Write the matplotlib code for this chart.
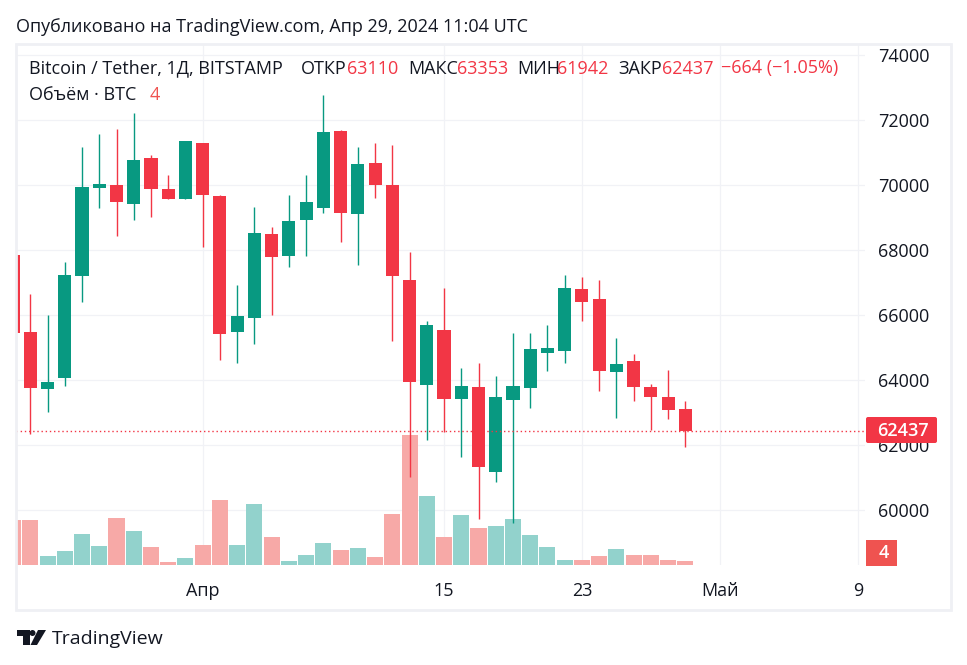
import matplotlib
matplotlib.use('Agg')
import matplotlib.pyplot as plt
from matplotlib.patches import Rectangle, FancyBboxPatch, Polygon, Circle
from matplotlib.transforms import IdentityTransform

plt.rcParams['font.family'] = ['Open Sans', 'DejaVu Sans']

# daily candles
opens = [67855, 65486, 63742, 64080, 67219, 69926, 70009, 69434, 70840, 69886,
         69588, 71302, 69671, 65495, 65926, 68502, 67834, 68942, 69311, 71671,
         69126, 70686, 70009, 67086, 63865, 65548, 63434, 63794, 61188, 63403,
         63772, 64849, 64911, 66809, 66502, 64265, 64594, 63794, 63486, 63110]
highs = [67855, 66656, 66009, 67640, 71179, 71579, 71733, 72225, 70933, 70317,
         71363, 71302, 69702, 66932, 69333, 68717, 69702, 70317, 72779, 71702,
         71179, 71302, 71240, 67948, 65825, 66840, 64379, 64532, 64132, 65455,
         65455, 65702, 67240, 67179, 67086, 65302, 64809, 63886, 64317, 63353]
lows = [65465, 62357, 63034, 63834, 66419, 69311, 68450, 68942, 69034, 69588,
        69588, 68111, 64634, 64542, 65126, 66009, 67496, 67834, 69157, 68265,
        67557, 69619, 65209, 61034, 62172, 62400, 61649, 59742, 60880, 59618,
        63157, 64295, 64542, 65834, 63680, 62849, 63372, 62462, 62819, 61942]
closes = [65465, 63772, 63948, 67240, 69948, 70040, 69496, 70779, 69896, 69588,
          71363, 69711, 65434, 65979, 68533, 67803, 68902, 69486, 71640, 69157,
          70656, 70019, 67219, 63948, 65702, 63434, 63825, 61342, 63486, 63825,
          64963, 64994, 66840, 66419, 64295, 64502, 63803, 63495, 63095, 62437]
volumes = [45, 45, 9, 14, 31, 19, 47, 34, 18, 3,
           7, 20, 65, 20, 61, 28, 4, 10, 22, 15,
           17, 8, 51, 130, 69, 28, 50, 37, 39, 46,
           30, 18, 5, 5, 9, 16, 10, 10, 5, 4]
vol_up = [False, False, True, True, True, True, False, True, False, False,
          True, False, False, True, True, False, True, True, True, False,
          True, False, False, False, True, False, True, False, True, True,
          True, True, True, False, False, True, False, False, False, False]

price_ticks = [60000, 62000, 64000, 66000, 68000, 70000, 72000, 74000]
time_ticks = [11, 25, 33, 41, 49]
time_labels = ['Апр', '15', '23', 'Май', '9']
last_price = 62437

GREEN = '#089981'
RED = '#F23645'
VOL_GREEN = '#92D2CC'
VOL_RED = '#F7A9A7'
GRID = '#F1F2F6'
TEXT = '#131722'

W, H = 967, 665
FONT = 13


def fx(px):
    return px / W


def fy(py):
    return 1 - py / H


def label(px, py, s, color=TEXT, size=FONT, **kw):
    kw.setdefault('va', 'center')
    fig.text(fx(px), fy(py + 1.5), s, color=color, fontsize=size, **kw)


fig = plt.figure(figsize=(W / 100, H / 100), dpi=100, facecolor='white')

# panel frame
fig.add_artist(Rectangle((fx(15.5), fy(609.5)), fx(935), 566 / H, transform=fig.transFigure,
                         fill=False, edgecolor='#EFF0F4', linewidth=2))

ax = fig.add_axes([fx(16), fy(565), fx(849), 521 / H])
ymin = 58317
ax.set_ylim(ymin, 74348)
ax.set_xlim(0.17, 49.42)
for s in ax.spines.values():
    s.set_visible(False)
ax.set_axisbelow(True)
ax.grid(True, color=GRID, linewidth=0.9)

ax.yaxis.tick_right()
ax.set_yticks(price_ticks)
ax.set_yticklabels([str(p) for p in price_ticks])
ax.tick_params(axis='y', length=0, pad=9.4, labelsize=FONT, labelcolor=TEXT)
ax.set_xticks(time_ticks)
ax.set_xticklabels(time_labels)
ax.tick_params(axis='x', length=0, pad=12.5, labelsize=FONT, labelcolor=TEXT)

# one volume unit is one pixel high, same as 30.77 on the price scale
vol_scale = 30.77
xs = list(range(len(opens)))
ax.bar(xs, [v * vol_scale for v in volumes], bottom=ymin, width=0.93,
       color=[VOL_GREEN if u else VOL_RED for u in vol_up], zorder=1)

for i in xs:
    c = GREEN if closes[i] >= opens[i] else RED
    ax.vlines(i, lows[i], highs[i], color=c, linewidth=1, zorder=2)
    ax.bar(i, abs(closes[i] - opens[i]), bottom=min(opens[i], closes[i]), width=0.76,
           color=c, zorder=3)

ax.axhline(last_price, color=RED, linewidth=1, linestyle=(0, (1, 2)), zorder=4)

# tags on the price scale
px_tf = IdentityTransform()
fig.add_artist(FancyBboxPatch((868, H - 441), 67, 22, boxstyle='round,pad=2,rounding_size=2',
                              transform=px_tf, facecolor=RED, edgecolor='none', zorder=5))
fig.add_artist(Rectangle((866, H - 566), 31, 26, transform=px_tf, facecolor='#EF5350',
                         edgecolor='none', zorder=5))
fig.text(fx(903), fy(431.5), str(last_price), color='white', fontsize=FONT, fontweight='semibold',
         ha='center', va='center', zorder=6)
fig.text(fx(884), fy(553.5), '4', color='white', fontsize=FONT, fontweight='semibold',
         ha='center', va='center', zorder=6)

# header and legend
label(16, 25, 'Опубликовано на TradingView.com, Апр 29, 2024 11:04 UTC')
label(29, 67, 'Bitcoin / Tether, 1Д, BITSTAMP')
label(301, 67, 'ОТКР')
label(347, 67, '63110', RED)
label(408, 67, 'МАКС')
label(457, 67, '63353', RED)
label(517, 67, 'МИН')
label(557, 67, '61942', RED)
label(618, 67, 'ЗАКР')
label(662, 67, '62437', RED)
label(721, 67, '−664 (−1.05%)', RED)
label(29, 94, 'Объём · BTC')
label(150, 94, '4', '#EF5350')

# logo
logo = '#131722'
fig.add_artist(Polygon([(16.5, H - 630), (29.5, H - 630), (29.5, H - 645), (22.5, H - 645),
                        (22.5, H - 636), (16.5, H - 636)], transform=px_tf, facecolor=logo,
                       edgecolor='none'))
fig.add_artist(Circle((32.5, H - 633), 3, transform=px_tf, facecolor=logo, edgecolor='none'))
fig.add_artist(Polygon([(38, H - 630), (46, H - 630), (37, H - 645), (30.5, H - 645)],
                       transform=px_tf, facecolor=logo, edgecolor='none'))
label(52, 638, 'TradingView', size=14)

fig.savefig('out.png', dpi=100)
